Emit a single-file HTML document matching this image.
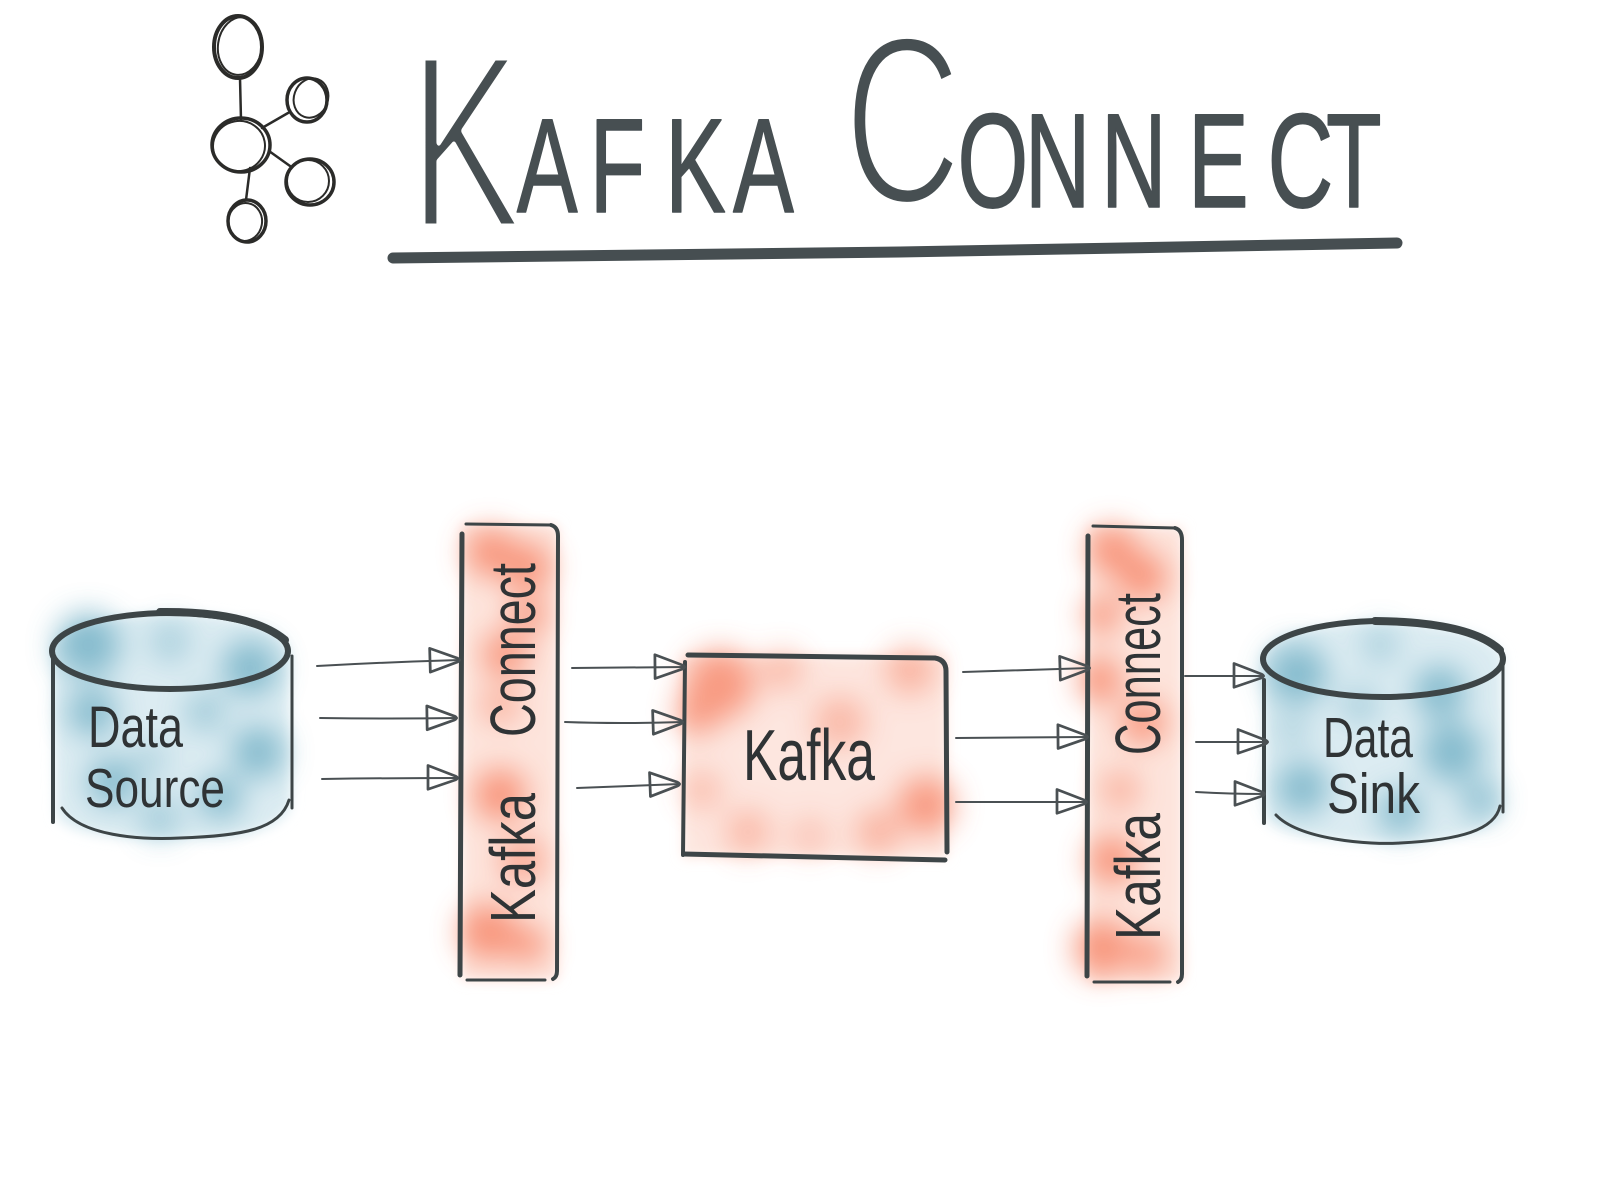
<!DOCTYPE html>
<html>
<head>
<meta charset="utf-8">
<style>
html,body{margin:0;padding:0;background:#fff;}
body{width:1600px;height:1200px;overflow:hidden;}
svg{display:block;}
text{font-family:"Liberation Sans",sans-serif;}
</style>
</head>
<body>
<svg width="1600" height="1200" viewBox="0 0 1600 1200" xmlns="http://www.w3.org/2000/svg">
<defs>
  <filter id="wc" x="-40%" y="-40%" width="180%" height="180%"><feGaussianBlur stdDeviation="15"/></filter>
  <filter id="wc2" x="-40%" y="-40%" width="180%" height="180%"><feGaussianBlur stdDeviation="6"/></filter>
  <marker id="ah" markerUnits="userSpaceOnUse" markerWidth="40" markerHeight="40" refX="24" refY="0" viewBox="-4 -14 32 28" orient="auto">
    <path d="M0,-10 L22,-1.5 Q25,0 22,1.5 L0,9 Z" fill="none" stroke="#4a5053" stroke-width="2.2" stroke-linejoin="round"/>
  </marker>
</defs>

<!-- ===== Logo ===== -->
<g fill="none" stroke="#2b2b29" stroke-linecap="round">
  <line x1="240" y1="78" x2="241" y2="120" stroke-width="2.5"/>
  <line x1="262" y1="128" x2="288" y2="113" stroke-width="2.5"/>
  <line x1="269" y1="151" x2="290" y2="166" stroke-width="2.5"/>
  <line x1="250" y1="168" x2="246" y2="200" stroke-width="2.5"/>
  <ellipse cx="238" cy="47" rx="24" ry="31" stroke-width="4"/>
  <ellipse cx="240" cy="46" rx="22" ry="29" stroke-width="2" transform="rotate(8 240 46)"/>
  <ellipse cx="241" cy="145" rx="29" ry="27" stroke-width="3.5"/>
  <ellipse cx="239" cy="146" rx="26" ry="25" stroke-width="2" transform="rotate(-10 239 146)"/>
  <ellipse cx="307" cy="100" rx="20" ry="22" stroke-width="3.5"/>
  <ellipse cx="311" cy="98" rx="17" ry="20" stroke-width="2" transform="rotate(20 311 98)"/>
  <ellipse cx="310" cy="182" rx="24" ry="23" stroke-width="3.5"/>
  <ellipse cx="308" cy="181" rx="21" ry="21" stroke-width="2"/>
  <ellipse cx="247" cy="221" rx="19" ry="21" stroke-width="3.5"/>
  <ellipse cx="245" cy="222" rx="17" ry="19" stroke-width="2" transform="rotate(10 245 222)"/>
</g>

<!-- ===== Title ===== -->
<g transform="scale(0.68,1)">
  <text fill="#474f52" stroke-linejoin="round"><tspan x="602" y="227" font-size="247" stroke="#ffffff" stroke-width="7">K</tspan><tspan x="760 867 978 1078" y="212" font-size="134" stroke="#474f52" stroke-width="1.5">AFKA</tspan> <tspan x="1241" y="203" font-size="240" stroke="#ffffff" stroke-width="7">C</tspan><tspan x="1408 1507 1619 1747 1864 1950" y="207" font-size="134" stroke="#474f52" stroke-width="1.5">ONNECT</tspan></text>
</g>
<path d="M393,258 L900,252 L1397,243" fill="none" stroke="#464e51" stroke-width="11" stroke-linecap="round"/>

<!-- ===== Watercolor fills ===== -->
<!-- left cylinder blue -->
<g filter="url(#wc2)">
  <path d="M52,651 A118,38 0 0 1 288,651 L291,805 Q280,840 175,840 Q70,840 56,815 Z" fill="#dcecf2"/>
</g>
<g filter="url(#wc)" fill="#6fafc4" opacity="0.8">
  <circle cx="88" cy="645" r="32"/>
  <circle cx="250" cy="668" r="28"/>
  <circle cx="170" cy="642" r="20" opacity="0.6"/>
  <circle cx="92" cy="712" r="24"/>
  <circle cx="205" cy="712" r="20" opacity="0.7"/>
  <circle cx="258" cy="752" r="26"/>
  <circle cx="112" cy="782" r="24"/>
  <circle cx="220" cy="798" r="22"/>
  <circle cx="160" cy="818" r="20" opacity="0.7"/>
  <circle cx="150" cy="760" r="18" opacity="0.5"/>
</g>
<!-- right cylinder blue -->
<g filter="url(#wc2)">
  <path d="M1263,659 A120,38 0 0 1 1503,659 L1503,808 Q1490,843 1390,843 Q1290,843 1266,818 Z" fill="#dcecf2"/>
</g>
<g filter="url(#wc)" fill="#6fafc4" opacity="0.8">
  <circle cx="1297" cy="674" r="30"/>
  <circle cx="1440" cy="692" r="26"/>
  <circle cx="1452" cy="752" r="30"/>
  <circle cx="1302" cy="788" r="26"/>
  <circle cx="1400" cy="812" r="22"/>
  <circle cx="1360" cy="705" r="19" opacity="0.6"/>
  <circle cx="1480" cy="800" r="18"/>
  <circle cx="1380" cy="645" r="18" opacity="0.6"/>
  <circle cx="1292" cy="730" r="18" opacity="0.5"/>
</g>

<!-- left bar pink -->
<g filter="url(#wc2)">
  <rect x="462" y="525" width="96" height="455" fill="#fde4dc"/>
</g>
<g filter="url(#wc)" fill="#f7876b" opacity="0.85">
  <circle cx="490" cy="552" r="24"/>
  <circle cx="527" cy="567" r="24"/>
  <circle cx="528" cy="615" r="18"/>
  <circle cx="505" cy="655" r="22"/>
  <circle cx="500" cy="705" r="18" opacity="0.7"/>
  <circle cx="500" cy="795" r="26"/>
  <circle cx="522" cy="860" r="22" opacity="0.8"/>
  <circle cx="488" cy="932" r="28"/>
  <circle cx="528" cy="945" r="18"/>
</g>
<!-- right bar pink -->
<g filter="url(#wc2)">
  <rect x="1088" y="527" width="95" height="455" fill="#fde4dc"/>
</g>
<g filter="url(#wc)" fill="#f7876b" opacity="0.85">
  <circle cx="1112" cy="550" r="24"/>
  <circle cx="1143" cy="577" r="24"/>
  <circle cx="1102" cy="615" r="18"/>
  <circle cx="1100" cy="680" r="22"/>
  <circle cx="1143" cy="722" r="22"/>
  <circle cx="1120" cy="790" r="18" opacity="0.7"/>
  <circle cx="1112" cy="860" r="24"/>
  <circle cx="1102" cy="948" r="28"/>
  <circle cx="1148" cy="955" r="18"/>
</g>
<!-- kafka box pink -->
<g filter="url(#wc2)">
  <rect x="683" y="655" width="264" height="203" fill="#fde6df"/>
</g>
<g filter="url(#wc)" fill="#f7876b" opacity="0.8">
  <circle cx="720" cy="684" r="34"/>
  <circle cx="698" cy="712" r="22"/>
  <circle cx="782" cy="670" r="20" opacity="0.6"/>
  <circle cx="840" cy="722" r="26" opacity="0.6"/>
  <circle cx="910" cy="670" r="24" opacity="0.7"/>
  <circle cx="926" cy="805" r="28"/>
  <circle cx="878" cy="832" r="22" opacity="0.7"/>
  <circle cx="748" cy="832" r="22" opacity="0.6"/>
  <circle cx="702" cy="790" r="18" opacity="0.6"/>
  <circle cx="810" cy="836" r="18" opacity="0.5"/>
</g>

<!-- ===== Outlines ===== -->
<g fill="none" stroke="#3d4547" stroke-linecap="round" stroke-linejoin="round">
  <!-- left cylinder -->
  <ellipse cx="170" cy="651" rx="118" ry="38" stroke-width="6"/>
  <path d="M160,612 Q250,611 285,640" stroke-width="8"/>
  <line x1="53" y1="656" x2="53" y2="822" stroke-width="4"/>
  <line x1="292" y1="656" x2="292" y2="808" stroke-width="3"/>
  <path d="M62,808 C80,836 140,840 180,838 C240,836 280,830 289,800" stroke-width="3"/>
  <!-- right cylinder -->
  <ellipse cx="1383" cy="659" rx="120" ry="38" stroke-width="6"/>
  <path d="M1375,621 Q1470,622 1500,650" stroke-width="8"/>
  <line x1="1264" y1="680" x2="1264" y2="823" stroke-width="4"/>
  <line x1="1503" y1="662" x2="1503" y2="812" stroke-width="3"/>
  <path d="M1276,815 C1300,840 1370,845 1400,843 C1460,840 1495,830 1500,806" stroke-width="3"/>
  <!-- left bar -->
  <line x1="466" y1="524" x2="551" y2="525" stroke-width="3"/>
  <path d="M551,525 Q558,527 558,536 L557,971 Q557,977 553,979" stroke-width="4"/>
  <line x1="462" y1="534" x2="460" y2="975" stroke-width="5"/>
  <line x1="467" y1="980" x2="545" y2="980" stroke-width="3"/>
  <!-- right bar -->
  <line x1="1093" y1="526" x2="1175" y2="528" stroke-width="3"/>
  <path d="M1175,528 Q1182,530 1182,540 L1182,974 Q1182,980 1178,982" stroke-width="4"/>
  <line x1="1088" y1="536" x2="1087" y2="976" stroke-width="5"/>
  <line x1="1094" y1="982" x2="1170" y2="982" stroke-width="3"/>
  <!-- kafka box -->
  <path d="M688,655 L935,658 Q946,660 946,671 L947,852" stroke-width="5"/>
  <line x1="685" y1="662" x2="683" y2="855" stroke-width="4"/>
  <path d="M684,854 L945,860" stroke-width="5"/>
</g>

<!-- ===== Arrows ===== -->
<g fill="none" stroke="#4a5053" stroke-width="2" stroke-linecap="round" marker-end="url(#ah)">
  <path d="M317,666 Q390,662 460,660"/>
  <path d="M320,718 Q390,719 457,718"/>
  <path d="M322,779 Q390,778 458,778"/>

  <path d="M572,668 L685,667"/>
  <path d="M565,722 Q620,724 683,722"/>
  <path d="M577,788 L680,784"/>

  <path d="M963,672 Q1020,670 1090,668"/>
  <path d="M956,738 L1088,737"/>
  <path d="M956,802 L1087,802"/>

  <path d="M1185,676 L1264,676"/>
  <path d="M1196,742 L1268,742"/>
  <path d="M1196,792 Q1230,794 1265,794"/>
</g>

<!-- ===== Labels ===== -->
<g fill="#2f3335">
  <text x="88" y="747" font-size="58" textLength="95" lengthAdjust="spacingAndGlyphs">Data</text>
  <text x="85" y="807" font-size="55" textLength="140" lengthAdjust="spacingAndGlyphs">Source</text>

  <text x="1323" y="757" font-size="57" textLength="90" lengthAdjust="spacingAndGlyphs">Data</text>
  <text x="1327" y="813" font-size="57" textLength="93" lengthAdjust="spacingAndGlyphs">Sink</text>

  <text x="743" y="780" font-size="72" textLength="132" lengthAdjust="spacingAndGlyphs">Kafka</text>

  <g transform="translate(535,923) rotate(-90)">
    <text x="0" y="0" font-size="64" textLength="130" lengthAdjust="spacingAndGlyphs">Kafka</text>
    <text x="186" y="0" font-size="64" textLength="174" lengthAdjust="spacingAndGlyphs">Connect</text>
  </g>
  <g transform="translate(1160,940) rotate(-90)">
    <text x="0" y="0" font-size="64" textLength="127" lengthAdjust="spacingAndGlyphs">Kafka</text>
    <text x="185" y="0" font-size="64" textLength="162" lengthAdjust="spacingAndGlyphs">Connect</text>
  </g>
</g>
</svg>
</body>
</html>
